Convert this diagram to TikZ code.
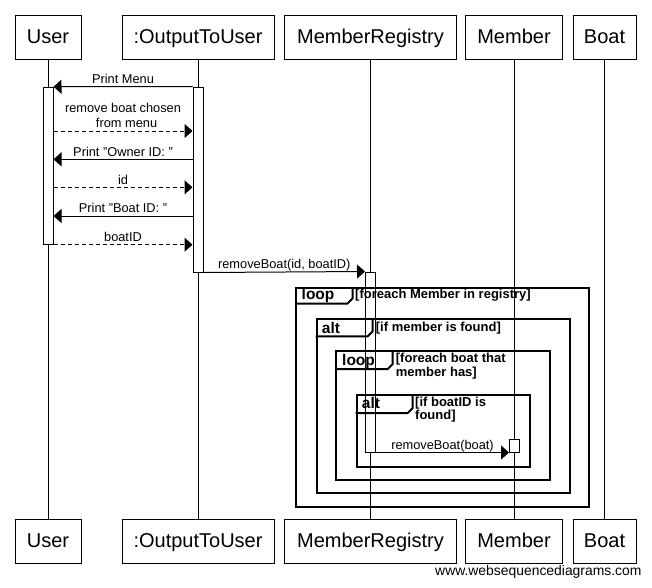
\documentclass[tikz,border=0pt]{standalone}
\usepackage{fontspec}
\setmainfont{Liberation Sans}
\usetikzlibrary{arrows.meta,calc}
\begin{document}
\begin{tikzpicture}[x=1pt,y=-1pt,
  actor/.style={draw, line width=1pt, minimum height=44pt, inner sep=0pt,
    text height=15pt, text depth=1.6pt, font=\fontsize{20}{22}\selectfont},
  life/.style={line width=1pt},
  act/.style={draw, fill=white, line width=1pt, minimum width=10pt, inner sep=0pt},
  msg/.style={line width=1pt, -{Triangle[length=8pt,width=14pt]}},
  reply/.style={msg, dash pattern=on 4pt off 3pt},
  mtext/.style={font=\fontsize{12.8}{15.3}\selectfont, inner sep=0pt, anchor=base},
  mlabel/.style={mtext, midway, yshift=3.2pt},
  frame/.style={draw, line width=2pt, inner sep=0pt, anchor=north west},
  tabline/.style={line width=2pt},
  tabtext/.style={font=\bfseries\fontsize{15.5}{16}\selectfont, inner sep=0pt, anchor=base west},
  cond/.style={font=\bfseries\fontsize{13}{14}\selectfont, inner sep=0pt, anchor=base west},
  wm/.style={font=\fontsize{13.9}{16}\selectfont, inner sep=0pt, anchor=base east}]
\useasboundingbox (0,0) rectangle (652,587);

% actor boxes
\node[actor, minimum width=66pt]  (uT) at (48,37)    {User};
\node[actor, minimum width=152pt] (oT) at (198,37)   {:OutputToUser};
\node[actor, minimum width=172pt] (rT) at (370.5,37) {MemberRegistry};
\node[actor, minimum width=97pt]  (mT) at (514,37)   {Member};
\node[actor, minimum width=63pt]  (bT) at (604.5,37) {Boat};
\node[actor, minimum width=66pt]  (uB) at (48,541)    {User};
\node[actor, minimum width=152pt] (oB) at (198,541)   {:OutputToUser};
\node[actor, minimum width=172pt] (rB) at (370.5,541) {MemberRegistry};
\node[actor, minimum width=97pt]  (mB) at (514,541)   {Member};
\node[actor, minimum width=63pt]  (bB) at (604.5,541) {Boat};

% lifelines
\draw[life] (uT.south) -- (uB.north);
\draw[life] (oT.south) -- (oB.north);
\draw[life] (rT.south) -- (rB.north);
\draw[life] (mT.south) -- (mB.north);
\draw[life] (bT.south) -- (bB.north);

% activations
\node[act, minimum height=157pt] (uA) at (48,165.7) {};
\node[act, minimum height=185pt] (oA) at (198,179.5) {};
\node[act, minimum height=180pt] (rA) at (370.5,362) {};
\node[act, minimum height=13pt]  (mA) at (514.5,445.5) {};

% message rows
\coordinate (y2) at (0,131);
\coordinate (y3) at (0,159.3);
\coordinate (y4) at (0,187.3);
\coordinate (y5) at (0,216);

\draw[msg] (oA.north west) -- node[mlabel] (l1) {Print Menu} (uA.north east);
\draw[reply] (uA.east |- y2) -- node[mlabel] (l2b) {\ \ from menu} (oA.west |- y2);
\node[mtext] (l2a) at ($(l2b.base)+(0,-15.4)$) {remove boat chosen};
\draw[msg] (oA.west |- y3) -- node[mlabel] (l3) {Print \symbol{34}Owner ID: \symbol{34}} (uA.east |- y3);
\draw[reply] (uA.east |- y4) -- node[mlabel] (l4) {id} (oA.west |- y4);
\draw[msg] (oA.west |- y5) -- node[mlabel] (l5) {Print \symbol{34}Boat ID: \symbol{34}} (uA.east |- y5);
\draw[reply] (uA.south east) -- node[mlabel] (l6) {boatID} (oA.west |- uA.south);
\draw[msg] (oA.south east) -- node[mlabel] (l7) {removeBoat(id, boatID)} (rA.north west);
\draw[msg] (rA.south east) -- node[mlabel] (l8) {removeBoat(boat)} (mA.south west);

% frames
\node[frame, minimum width=293.3pt, minimum height=218.7pt] (f1) at (295,287) {};
\draw[tabline] ($(f1.north west)+(0,16.5)$) -- ++(52.5,0) -- ++(5,-5) -- ++(0,-11.5);
\node[tabtext] (f1t) at ($(f1.north west)+(6.5,12.8)$) {loop};
\node[cond] (f1c) at ($(f1.north west)+(60,11.2)$) {[foreach Member in registry]};

\node[frame, minimum width=253pt, minimum height=173.4pt] (f2) at (315.7,318.3) {};
\draw[tabline] ($(f2.north west)+(0,18)$) -- ++(52,0) -- ++(5,-5) -- ++(0,-13);
\node[tabtext] (f2t) at ($(f2.north west)+(6,14.8)$) {alt};
\node[cond] (f2c) at ($(f2.north west)+(60,13.4)$) {[if member is found]};

\node[frame, minimum width=213.7pt, minimum height=129pt] (f3) at (335,350) {};
\draw[tabline] ($(f3.north west)+(0,19)$) -- ++(52.7,0) -- ++(5,-5) -- ++(0,-14);
\node[tabtext] (f3t) at ($(f3.north west)+(7,15.8)$) {loop};
\node[cond] (f3c) at ($(f3.north west)+(60.7,12.7)$) {[foreach boat that};
\node[cond] (f3d) at ($(f3.north west)+(60.7,26.7)$) {member has]};

\node[frame, minimum width=173pt, minimum height=71.7pt] (f4) at (355.7,394) {};
\draw[tabline] ($(f4.north west)+(0,19)$) -- ++(52,0) -- ++(5,-5) -- ++(0,-14);
\node[tabtext] (f4t) at ($(f4.north west)+(6,14.6)$) {alt};
\node[cond] (f4c) at ($(f4.north west)+(59.3,12.7)$) {[if boatID is};
\node[cond] (f4d) at ($(f4.north west)+(59.3,25.3)$) {found]};

% watermark
\node[wm] (wm) at (641.7,575.5) {www.websequencediagrams.com};
\end{tikzpicture}
\end{document}
